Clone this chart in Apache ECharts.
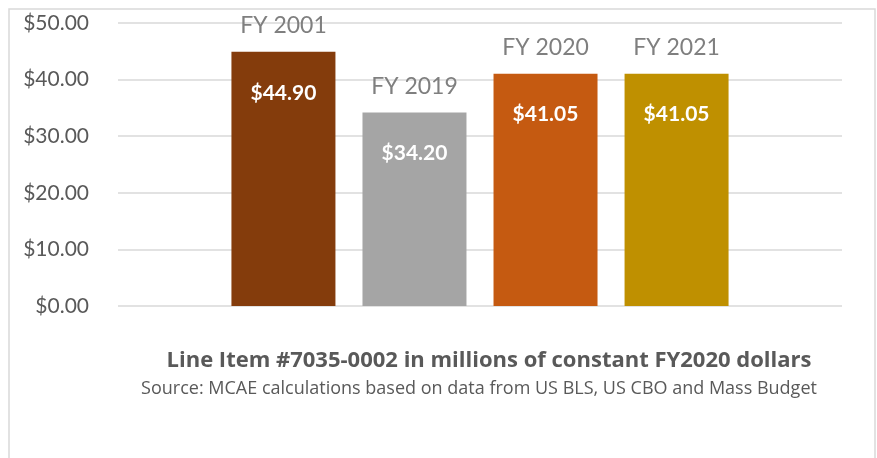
<!DOCTYPE html>
<html>
<head>
<meta charset="utf-8">
<script src="https://cdn.jsdelivr.net/npm/echarts@6/dist/echarts.min.js"></script>
<style>
  html, body { margin: 0; padding: 0; background: #fff; }
  #chart { width: 877px; height: 458px; }
</style>
</head>
<body>
<div id="chart"></div>
<script>
// chart values
const yearNames = ['FY 2001', 'FY 2019', 'FY 2020', 'FY 2021'];
const amounts = [44.90, 34.20, 41.05, 41.05];
const barColors = ['#843c0c', '#a5a5a5', '#c55a11', '#bf9000'];
const yTicks = [0, 10, 20, 30, 40, 50];

const chart = echarts.init(document.getElementById('chart'));

// one category, one series per fiscal year (like the excel original)
const series = yearNames.map((name, i) => ({
  name: name,
  type: 'bar',
  barWidth: 104,
  barGap: '26%',
  data: [amounts[i]],
  itemStyle: { color: barColors[i] },
  label: {
    show: true,
    position: 'insideTop',
    distance: 0,
    offset: [0, -40],
    formatter: (p) => '{n|' + p.seriesName + '}\n{v|$' + p.value.toFixed(2) + '}',
    rich: {
      n: {
        fontFamily: 'Lato',
        fontSize: 23,
        color: '#7f7f7f',
        lineHeight: 28,
        verticalAlign: 'middle'
      },
      v: {
        fontFamily: 'Lato',
        fontWeight: 'bold',
        fontSize: 21,
        color: '#ffffff',
        lineHeight: 106,
        verticalAlign: 'middle'
      }
    }
  }
}));

chart.setOption({
  animation: false,
  backgroundColor: '#fff',
  grid: { left: 118, right: 35, top: 23, bottom: 152 },
  xAxis: {
    type: 'category',
    data: [''],
    axisLine: { show: false },
    axisTick: { show: false },
    axisLabel: { show: false }
  },
  yAxis: {
    type: 'value',
    min: yTicks[0],
    max: yTicks[yTicks.length - 1],
    interval: 10,
    axisLine: { show: false },
    axisTick: { show: false },
    splitLine: { lineStyle: { color: '#d9d9d9', width: 1.5 } },
    axisLabel: {
      margin: 29,
      fontFamily: 'Lato',
      fontSize: 21,
      color: '#595959',
      formatter: (v) => '$' + v.toFixed(2)
    }
  },
  title: [
    {
      text: 'Line Item #7035-0002 in millions of constant FY2020 dollars',
      left: 484,
      textAlign: 'center',
      top: 345,
      textStyle: { fontFamily: 'Open Sans', fontWeight: 'bold', fontSize: 22, color: '#595959' }
    },
    {
      text: 'Source: MCAE calculations based on data from US BLS, US CBO and Mass Budget',
      left: 474,
      textAlign: 'center',
      top: 375,
      textStyle: { fontFamily: 'Open Sans', fontWeight: 'normal', fontSize: 18, color: '#595959' }
    }
  ],
  graphic: [
    {
      type: 'rect',
      silent: true,
      shape: { x: 9, y: 9, width: 866, height: 460 },
      style: { fill: 'none', stroke: '#d9d9d9', lineWidth: 1.5 }
    }
  ],
  series: series
});
</script>
</body>
</html>
